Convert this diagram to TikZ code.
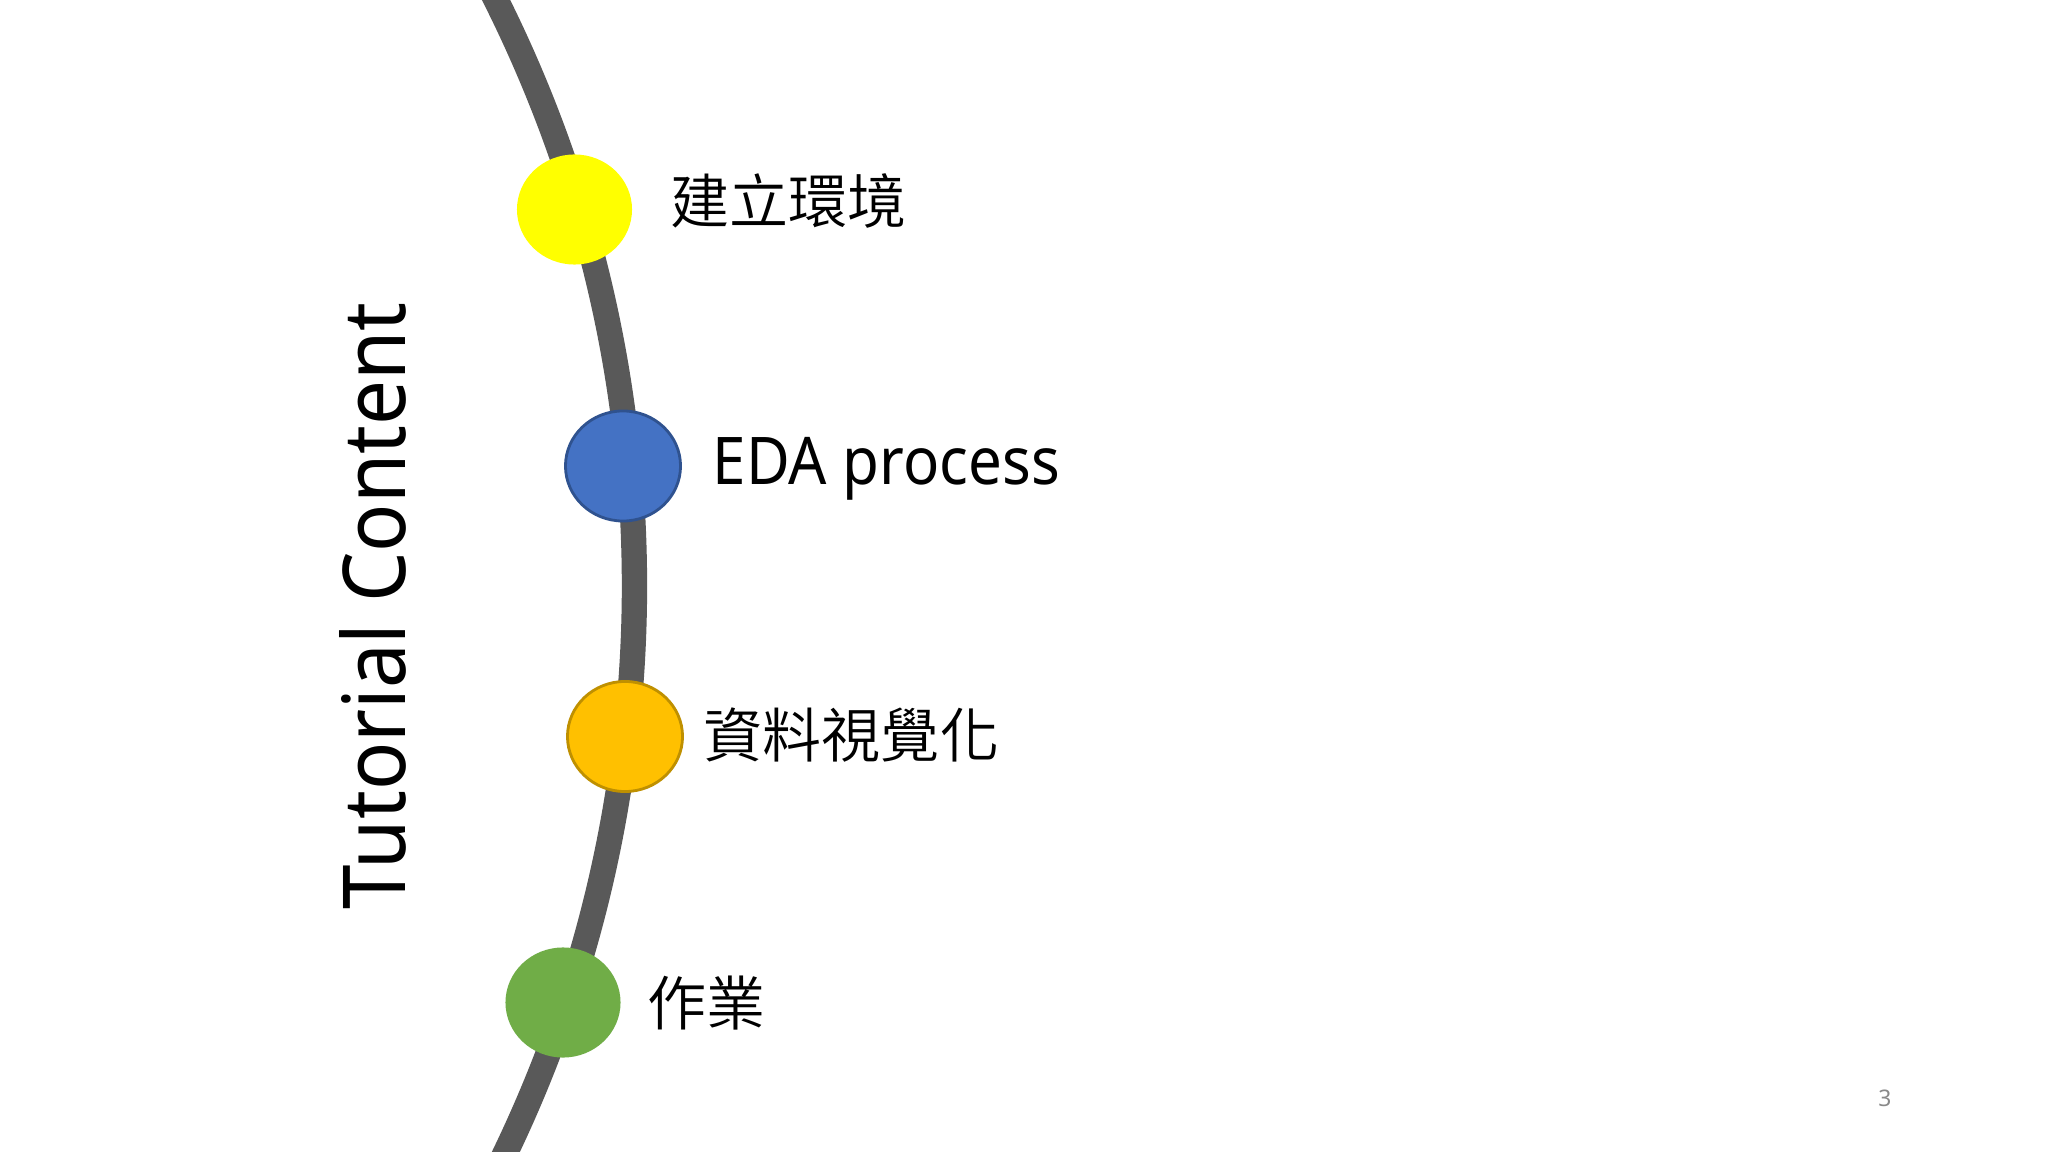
\documentclass[tikz,border=0pt]{standalone}
\usepackage{fontspec}
\usepackage{graphicx}
\setmainfont{Noto Sans}
\IfFontExistsTF{Noto Sans CJK TC DemiLight}{\newfontfamily\cjk{Noto Sans CJK TC DemiLight}}{\newfontfamily\cjk{Noto Sans CJK TC}}
\usetikzlibrary{shapes.geometric}
\definecolor{arcgray}{RGB}{89,89,89}
\definecolor{dotyellow}{RGB}{255,255,0}
\definecolor{dotblue}{RGB}{68,114,196}
\definecolor{dotblueline}{RGB}{47,82,143}
\definecolor{dotorange}{RGB}{255,192,0}
\definecolor{dotorangeline}{RGB}{191,144,0}
\definecolor{dotgreen}{RGB}{112,173,71}
\definecolor{pagegray}{RGB}{137,137,137}
\tikzset{
  dot/.style={ellipse, inner sep=0pt, outer sep=0pt, minimum width=1.15cm, minimum height=1.10cm},
  cjklabel/.style={anchor=west, inner sep=0pt, font=\cjk\fontsize{16.8}{20}\selectfont},
  timeline/.style={draw=arcgray, line width=7.2pt}
}
\begin{document}
\begin{tikzpicture}[x=0.01cm, y=-0.01cm]
\useasboundingbox (0,0) rectangle (2048,1152);
\fill[white] (0,0) rectangle (2048,1152);
\begin{scope}
\clip (0,0) rectangle (2048,1152);
\coordinate (arcstart) at (481.2,-28.8);
\draw[timeline] (arcstart) arc[start angle=-28, end angle=28, radius=1309.5];
\end{scope}
\node[dot, fill=dotyellow] (c1) at (574.5,209.5) {};
\node[dot, fill=dotblue, draw=dotblueline, line width=0.8pt] (c2) at (623,466) {};
\node[dot, fill=dotorange, draw=dotorangeline, line width=0.8pt] (c3) at (625,736.5) {};
\node[dot, fill=dotgreen] (c4) at (563,1002.5) {};
\node[cjklabel] (t1) at (670,201) {建立環境};
\node[anchor=base west, inner sep=0pt] (t2) at (712,485) {\scalebox{0.913}[1]{\fontsize{18.7}{22}\selectfont EDA process}};
\node[cjklabel] (t3) at (703,735.5) {資料視覺化};
\node[cjklabel] (t4) at (647,1003) {作業};
\node[rotate=90, anchor=base, inner sep=0pt] (title) at (405,606) {\scalebox{0.92}[1]{\fontsize{24.7}{28}\selectfont Tutorial Content}};
\node[text=pagegray, inner sep=0pt, font=\fontsize{6.5}{8}\selectfont] (page) at (1885,1098) {3};
\end{tikzpicture}
\end{document}
